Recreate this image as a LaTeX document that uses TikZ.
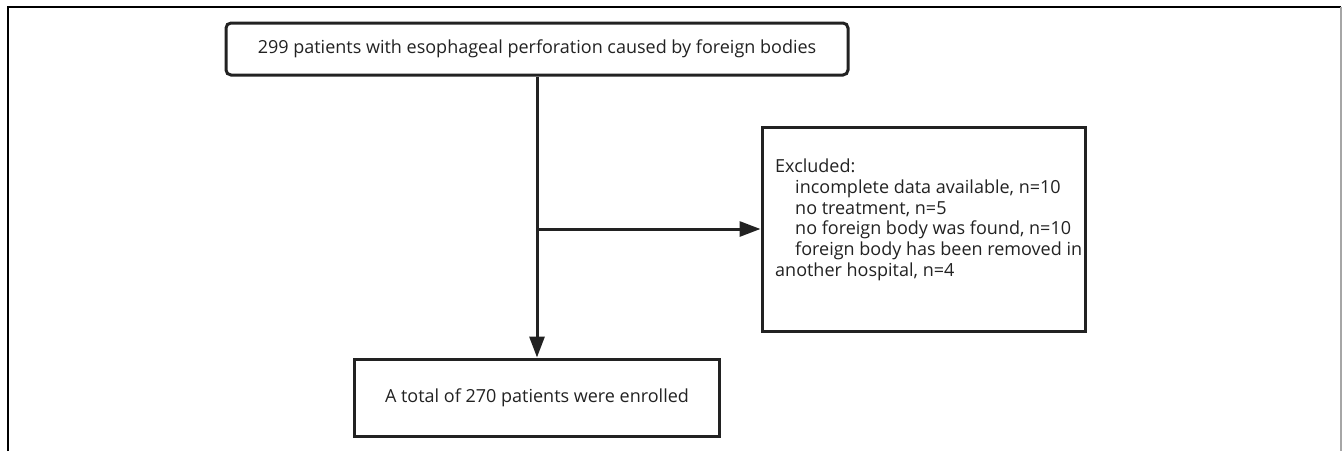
\documentclass[tikz,border=0pt]{standalone}
\usepackage{fontspec}
\setmainfont{Open Sans}
\usetikzlibrary{arrows.meta}
\definecolor{ink}{HTML}{222222}
\begin{document}
\begin{tikzpicture}[x=1pt,y=-1pt,
  box/.style={draw=ink, line width=3pt, inner sep=0pt, font=\fontsize{18}{20.7}\selectfont, text=ink},
  conn/.style={draw=ink, line width=3pt, -{Triangle[length=21pt,width=15pt]}}]
\useasboundingbox (0,0) rectangle (1342,451);
\fill[white] (0,0) rectangle (1342,451);
\draw[black, line width=2pt] (7.5,451) -- (7.5,6.5) -- (1341,6.5);
\draw[gray!70, line width=2pt] (1341,6.5) -- (1341,451);
\node[box, rounded corners=5pt, minimum width=622pt, minimum height=52pt] (top) at (537,49) {299 patients with esophageal perforation caused by foreign bodies};
\node[box, minimum width=365pt, minimum height=77pt] (enrolled) at (537,397.5) {A total of 270 patients were enrolled};
\node[box, minimum width=323pt, minimum height=204pt] (excl) at (923.5,229) {};
\node[anchor=north west, align=left, inner sep=0pt, text=ink, font=\fontsize{18}{20.7}\selectfont] (excltext) at (775,159) {Excluded:\\
\hspace*{20pt}incomplete data available, n=10\\
\hspace*{20pt}no treatment, n=5\\
\hspace*{20pt}no foreign body was found, n=10\\
\hspace*{20pt}foreign body has been removed in\\
another hospital, n=4};
\draw[conn] (top.south) -- (enrolled.north);
\draw[conn] (top.south |- excl.west) -- (excl.west);
\end{tikzpicture}
\end{document}
